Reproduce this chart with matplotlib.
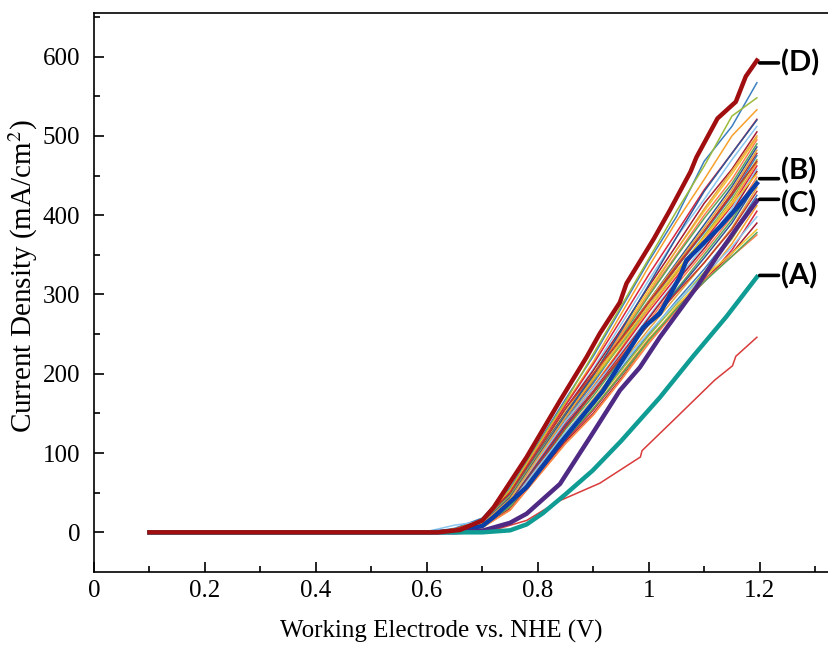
import numpy as np
import matplotlib
matplotlib.use("Agg")
import matplotlib.pyplot as plt

plt.rcParams['font.family'] = ['Liberation Serif', 'DejaVu Serif']
plt.rcParams['mathtext.fontset'] = 'stix'

# shared potential grid for the thin background curves (V)
grid_v = [0.10, 0.60, 0.65, 0.70, 0.75, 0.80, 0.85, 0.90, 0.95, 1.00, 1.05, 1.10, 1.15, 1.195]

# thin curves: current density (mA/cm2) at grid_v
thin_j = [
    [0, 0, 5, 18, 56, 112, 168, 222, 282, 342, 398, 468, 512, 567],
    [0, 0, 4, 16, 54, 110, 165, 225, 285, 345, 405, 462, 525, 548],
    [0, 0, 4, 15, 52, 108, 162, 215, 275, 335, 392, 445, 500, 533],
    [0, 0, 4, 14, 50, 105, 160, 212, 268, 325, 378, 432, 478, 521],
    [0, 1, 9, 14, 48, 104, 156, 206, 262, 318, 372, 420, 470, 512],
    [0, 0, 3, 13, 47, 102, 156, 204, 256, 310, 362, 415, 458, 505],
    [0, 0, 3, 13, 46, 100, 152, 200, 252, 306, 356, 405, 452, 498],
    [0, 0, 3, 12, 44, 98, 150, 198, 250, 300, 350, 400, 445, 495],
    [0, 0, 3, 12, 44, 96, 148, 196, 246, 298, 348, 396, 440, 490],
    [0, 0, 4, 14, 48, 100, 150, 198, 244, 292, 340, 388, 436, 486],
    [0, 0, 3, 12, 43, 95, 146, 192, 242, 292, 338, 384, 432, 482],
    [0, 0, 3, 11, 42, 94, 145, 190, 240, 290, 336, 380, 428, 478],
    [0, 0, 3, 11, 41, 92, 142, 188, 238, 286, 334, 378, 424, 475],
    [0, 0, 4, 13, 46, 98, 148, 192, 236, 282, 328, 374, 420, 470],
    [0, 0, 3, 11, 40, 90, 140, 184, 232, 282, 326, 372, 416, 466],
    [0, 0, 2, 10, 38, 88, 138, 182, 230, 278, 322, 368, 412, 462],
    [0, 0, 3, 12, 42, 92, 140, 182, 226, 272, 318, 362, 408, 458],
    [0, 0, 2, 10, 38, 86, 135, 178, 224, 270, 316, 358, 404, 455],
    [0, 0, 3, 12, 44, 96, 148, 194, 240, 286, 330, 372, 414, 452],
    [0, 0, 2, 9, 36, 84, 132, 176, 222, 266, 312, 354, 398, 448],
    [0, 0, 2, 9, 35, 82, 130, 172, 218, 262, 306, 350, 394, 444],
    [0, 0, 2, 10, 38, 86, 134, 176, 220, 264, 304, 346, 390, 440],
    [0, 0, 2, 9, 34, 80, 126, 168, 212, 256, 298, 340, 384, 435],
    [0, 0, 2, 10, 37, 84, 132, 176, 220, 262, 302, 340, 382, 430],
    [0, 0, 2, 8, 33, 78, 122, 162, 206, 250, 292, 332, 376, 425],
    [0, 0, 2, 8, 32, 76, 120, 160, 204, 248, 288, 328, 370, 420],
    [0, 0, 2, 8, 31, 74, 118, 156, 200, 244, 282, 320, 364, 412],
    [0, 0, 2, 7, 30, 72, 116, 154, 198, 242, 280, 316, 356, 405],
    [0, 0, 3, 10, 36, 82, 126, 166, 210, 252, 290, 324, 360, 398],
    [0, 0, 1, 7, 29, 72, 114, 150, 194, 240, 282, 318, 352, 390],
    [0, 0, 1, 6, 28, 70, 112, 148, 192, 240, 285, 322, 352, 382],
    [0, 0, 1, 6, 28, 70, 112, 148, 192, 238, 280, 318, 348, 375],
    [0, 0, 2, 8, 32, 76, 118, 156, 198, 242, 282, 316, 348, 378],
    [0, 0, 3, 12, 44, 96, 148, 198, 254, 312, 372, 430, 478, 520],
    [0, 0, 3, 11, 42, 94, 145, 194, 248, 302, 356, 408, 456, 500],
    [0, 0, 4, 15, 50, 104, 156, 200, 244, 290, 334, 380, 426, 468],
]
thin_colors = ['#3C7EBF', '#9BBB3A', '#F7A12C', '#D7263D', '#8AC6EE', '#A51C30',
               '#F4C430', '#FF7F50', '#5BA55B', '#2F5597', '#E8A33D', '#C0392B']

# thin red curve (lowest)
red_v = [0.10, 0.68, 0.719, 0.78, 0.82, 0.84, 0.912, 0.985, 0.988, 1.05, 1.119, 1.151, 1.157, 1.195]
red_j = [0, 0, 2.5, 15, 32, 40, 62, 95, 103, 145, 192, 210, 222, 246]

# highlighted curves
a_v = [0.10, 0.70, 0.75, 0.78, 0.809, 0.85, 0.899, 0.95, 1.02, 1.08, 1.14, 1.195]
a_j = [0, 0, 2.5, 10, 24, 48, 78, 115, 170, 222, 272, 322]

b_v = [0.10, 0.60, 0.65, 0.70, 0.72, 0.78, 0.84, 0.917, 0.99, 1.02, 1.056, 1.068, 1.128, 1.16, 1.195]
b_j = [0, 0, 1, 8, 19, 57, 112, 178, 258, 276, 322, 343, 385, 410, 440]

c_v = [0.10, 0.65, 0.70, 0.72, 0.75, 0.78, 0.84, 0.899, 0.948, 0.984, 1.02, 1.086, 1.122, 1.16, 1.195]
c_j = [0, 0, 2, 6, 12, 23.5, 61, 125, 179, 208, 246, 309, 347, 385, 418]

d_v = [0.10, 0.62, 0.66, 0.70, 0.72, 0.78, 0.84, 0.888, 0.912, 0.948, 0.96, 1.009, 1.038, 1.0755,
       1.086, 1.124, 1.157, 1.175, 1.195]
d_j = [0, 0, 3, 15, 31, 95, 166, 221, 251, 290, 314, 370, 406, 455, 473, 522, 543, 575, 595]

labels = ['(D)', '(B)', '(C)', '(A)']
dash_j = [592, 446, 420, 324]
label_j = [592, 456, 414, 324]

fig = plt.figure(figsize=(8.29, 6.46), dpi=100)
ax = fig.add_axes([0.1134, 0.1146, 0.8866, 0.8653])

for i, j in enumerate(thin_j):
    ax.plot(grid_v, j, color=thin_colors[i % len(thin_colors)], lw=1.1)
ax.plot(red_v, red_j, color='#D93A3A', lw=1.1)
ax.plot(b_v, b_j, color='#0A3FA8', lw=3.2)
ax.plot(c_v, c_j, color='#4E2A84', lw=3.2)
ax.plot(a_v, a_j, color='#0E9C94', lw=3.2)
ax.plot(d_v, d_j, color='#A00E10', lw=3.2)

# leader dash + label for each highlighted curve
for lab, yd, yt in zip(labels, dash_j, label_j):
    ax.annotate('', xy=(1.234, yd), xytext=(1.2, yd), annotation_clip=False,
                arrowprops=dict(arrowstyle='-', lw=2.6, color='black', shrinkA=0, shrinkB=0))
    ax.text(1.238, yt, lab, fontsize=21, fontweight='bold', family=['Lato', 'DejaVu Sans'],
            va='center', ha='left')

ax.set_xlim(0, 1.325)
ax.set_ylim(-50, 655)
ax.set_xticks(np.arange(0, 1.31, 0.2))
ax.set_xticks(np.arange(0.1, 1.31, 0.2), minor=True)
ax.set_xticklabels(['0', '0.2', '0.4', '0.6', '0.8', '1', '1.2'])
ax.set_yticks(np.arange(0, 601, 100))
ax.set_yticks(np.arange(50, 651, 100), minor=True)
ax.tick_params(direction='in', length=7, width=1.2, labelsize=18)
ax.tick_params(axis='x', pad=6)
ax.tick_params(axis='y', pad=10)
ax.tick_params(which='minor', direction='in', length=4, width=1.2)
ax.spines['right'].set_visible(False)
for s in ['left', 'bottom', 'top']:
    ax.spines[s].set_linewidth(1.2)

ax.set_xlabel('Working Electrode vs. NHE (V)', fontsize=18)
ax.xaxis.set_label_coords(0.472, -0.085)
ax.set_ylabel('Current Density (mA/cm$^2$)', fontsize=21)
ax.yaxis.set_label_coords(-0.074, 0.53)

fig.savefig('out.png', dpi=100)
